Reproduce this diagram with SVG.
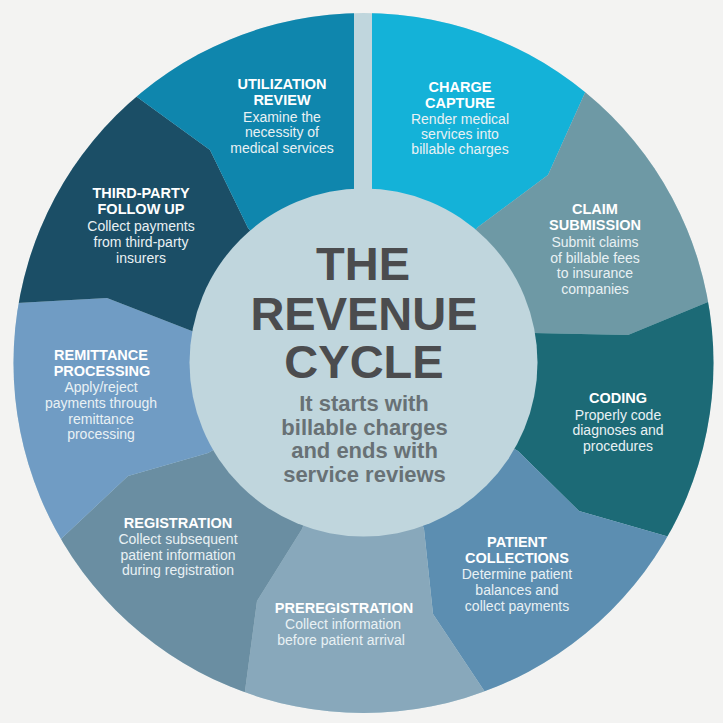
<svg xmlns="http://www.w3.org/2000/svg" width="723" height="723" viewBox="0 0 723 723">
  <defs>
    <clipPath id="disc">
      <circle cx="363.5" cy="363" r="350"/>
    </clipPath>
  </defs>
  <style>
    .t { font-family: "Liberation Sans", Arial, sans-serif; font-weight: bold; font-size: 14.5px; fill: #ffffff; text-anchor: middle; }
    .d { font-family: "Liberation Sans", Arial, sans-serif; font-size: 14px; fill: #e9f1f4; text-anchor: middle; }
    .h { font-family: "Liberation Sans", Arial, sans-serif; font-weight: bold; font-size: 47px; fill: #4b4c4e; text-anchor: middle; }
    .s { font-family: "Liberation Sans", Arial, sans-serif; font-weight: bold; font-size: 22px; fill: #687175; text-anchor: middle; }
  </style>
  <rect x="0" y="0" width="723" height="723" fill="#f3f3f2"/>
  <circle cx="363.5" cy="363" r="350" fill="#c0d6dd"/>
  <g clip-path="url(#disc)">
    <g id="charge-capture">
      <polygon points="372,363 372,-30 640,-30 584,95 548,175 478,227" fill="#14b2d8"/>
    </g>
    <g id="claim-submission">
      <polygon points="363,363 478,227 548,175 584,95 640,-30 780,-30 780,272 708,302 628,335 533,333" fill="#6e99a5"/>
    </g>
    <g id="coding">
      <polygon points="363,363 533,333 628,335 708,302 780,272 780,569 666,536 579,511 518,451" fill="#1c6a76"/>
    </g>
    <g id="patient-collections">
      <polygon points="363,363 518,451 579,511 666,536 780,569 780,780 544,780 483,689 433,614 424,529" fill="#5c8eb1"/>
    </g>
    <g id="preregistration">
      <polygon points="363,363 424,529 433,614 483,689 544,780 233,780 245,691 257,601 302,529" fill="#88a8bb"/>
    </g>
    <g id="registration">
      <polygon points="363,363 302,529 257,601 245,691 233,780 -30,780 -30,624 62,538 128,476 208,453" fill="#6a8ea2"/>
    </g>
    <g id="remittance-processing">
      <polygon points="363,363 208,453 128,476 62,538 -30,624 -30,306 17,303 107,298 197,333" fill="#709cc4"/>
    </g>
    <g id="third-party-follow-up">
      <polygon points="363,363 197,333 107,298 17,303 -30,306 -38,-30 137,97 210,150 248,228" fill="#1b4e66"/>
    </g>
    <g id="utilization-review">
      <polygon points="363,363 248,228 210,150 137,97 -38,-30 354,-30 354,363" fill="#0f86ad"/>
    </g>
  </g>
  <g id="center">
    <circle cx="363.5" cy="362.5" r="174" fill="#c0d6dd"/>
    <text class="h" x="363" y="280">THE</text>
    <text class="h" x="364" y="330">REVENUE</text>
    <text class="h" x="364" y="378">CYCLE</text>
    <text class="s" x="364" y="411">It starts with</text>
    <text class="s" x="364.5" y="435">billable charges</text>
    <text class="s" x="364.5" y="458">and ends with</text>
    <text class="s" x="364.5" y="482">service reviews</text>
  </g>
  <g id="labels">
    <g id="label-utilization-review">
      <text class="t" x="282" y="89">UTILIZATION</text>
      <text class="t" x="282" y="105">REVIEW</text>
      <text class="d" x="282" y="122">Examine the</text>
      <text class="d" x="282" y="137">necessity of</text>
      <text class="d" x="282" y="153">medical services</text>
    </g>
    <g id="label-charge-capture">
      <text class="t" x="460" y="92">CHARGE</text>
      <text class="t" x="460" y="108">CAPTURE</text>
      <text class="d" x="460" y="124">Render medical</text>
      <text class="d" x="460" y="139">services into</text>
      <text class="d" x="460" y="154">billable charges</text>
    </g>
    <g id="label-claim-submission">
      <text class="t" x="595" y="214">CLAIM</text>
      <text class="t" x="595" y="230">SUBMISSION</text>
      <text class="d" x="595" y="247">Submit claims</text>
      <text class="d" x="595" y="263">of billable fees</text>
      <text class="d" x="595" y="278">to insurance</text>
      <text class="d" x="595" y="294">companies</text>
    </g>
    <g id="label-coding">
      <text class="t" x="618" y="403">CODING</text>
      <text class="d" x="618" y="420">Properly code</text>
      <text class="d" x="618" y="435">diagnoses and</text>
      <text class="d" x="618" y="451">procedures</text>
    </g>
    <g id="label-patient-collections">
      <text class="t" x="517" y="547">PATIENT</text>
      <text class="t" x="517" y="563">COLLECTIONS</text>
      <text class="d" x="517" y="579">Determine patient</text>
      <text class="d" x="517" y="595">balances and</text>
      <text class="d" x="517" y="611">collect payments</text>
    </g>
    <g id="label-preregistration">
      <text class="t" x="344" y="613">PREREGISTRATION</text>
      <text class="d" x="343" y="629">Collect information</text>
      <text class="d" x="341" y="645">before patient arrival</text>
    </g>
    <g id="label-registration">
      <text class="t" x="178" y="528">REGISTRATION</text>
      <text class="d" x="178" y="544">Collect subsequent</text>
      <text class="d" x="178" y="560">patient information</text>
      <text class="d" x="178" y="575">during registration</text>
    </g>
    <g id="label-remittance-processing">
      <text class="t" x="101" y="360">REMITTANCE</text>
      <text class="t" x="102" y="376">PROCESSING</text>
      <text class="d" x="101" y="392">Apply/reject</text>
      <text class="d" x="101" y="408">payments through</text>
      <text class="d" x="101" y="424">remittance</text>
      <text class="d" x="101" y="439">processing</text>
    </g>
    <g id="label-third-party-follow-up">
      <text class="t" x="141" y="198">THIRD-PARTY</text>
      <text class="t" x="141" y="214">FOLLOW UP</text>
      <text class="d" x="141" y="231">Collect payments</text>
      <text class="d" x="141" y="247">from third-party</text>
      <text class="d" x="141" y="263">insurers</text>
    </g>
  </g>
  <g id="connectors"/>
</svg>
